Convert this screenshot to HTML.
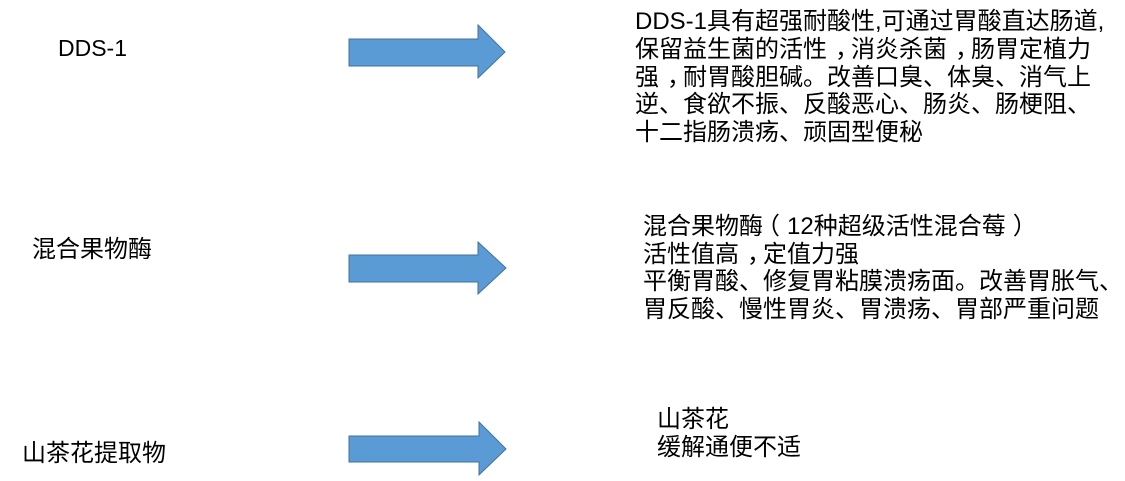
<!DOCTYPE html>
<html>
<head>
<meta charset="utf-8">
<style>
  html, body { margin:0; padding:0; background:#ffffff; }
  body { width:1125px; height:481px; overflow:hidden; }
  svg { display:block; }
  text { font-family: "Liberation Sans", "Noto Sans CJK SC", "WenQuanYi Zen Hei", sans-serif; font-size:24px; fill:#000; }
</style>
</head>
<body>
<svg width="1125" height="481" viewBox="0 0 1125 481" xmlns="http://www.w3.org/2000/svg">
  <rect x="0" y="0" width="1125" height="481" fill="#ffffff"/>

  <!-- Arrows -->
  <polygon points="349,39 478,39 478,25 505,52 478,78 478,66 349,66" fill="#5B9BD5" stroke="#41719C" stroke-width="1"/>
  <polygon points="349,255 478,255 478,242 506,268 478,294 478,282 349,282" fill="#5B9BD5" stroke="#41719C" stroke-width="1"/>
  <polygon points="349,436 479,436 479,422 506,449 479,475 479,462 349,462" fill="#5B9BD5" stroke="#41719C" stroke-width="1"/>

  <!-- Left labels -->
  <text x="58" y="56" style="font-size:23px">DDS-1</text>
  <text x="32" y="257">混合果物酶</text>
  <text x="22" y="461">山茶花提取物</text>

  <!-- Block 1 -->
  <text x="635" y="29">DDS-1具有超强耐酸性,可通过胃酸直达肠道,</text>
  <text x="635" y="57">保留益生菌的活性<tspan dx="8">，</tspan><tspan dx="-8">消炎杀菌</tspan><tspan dx="8">，</tspan><tspan dx="-8">肠胃定植力</tspan></text>
  <text x="635" y="85">强<tspan dx="8">，</tspan><tspan dx="-8">耐胃酸胆碱。改善口臭、体臭、消气上</tspan></text>
  <text x="635" y="112">逆、食欲不振、反酸恶心、肠炎、肠梗阻、</text>
  <text x="635" y="140">十二指肠溃疡、顽固型便秘</text>

  <!-- Block 2 -->
  <text x="643" y="234">混合果物酶<tspan dx="-7">（</tspan><tspan dx="7">12种超级活性混合莓</tspan><tspan dx="7">）</tspan></text>
  <text x="643" y="262">活性值高<tspan dx="8">，</tspan><tspan dx="-8">定值力强</tspan></text>
  <text x="643" y="289">平衡胃酸、修复胃粘膜溃疡面。改善胃胀气、</text>
  <text x="643" y="317">胃反酸、慢性胃炎、胃溃疡、胃部严重问题</text>

  <!-- Block 3 -->
  <text x="657" y="427">山茶花</text>
  <text x="657" y="455">缓解通便不适</text>
</svg>
</body>
</html>
